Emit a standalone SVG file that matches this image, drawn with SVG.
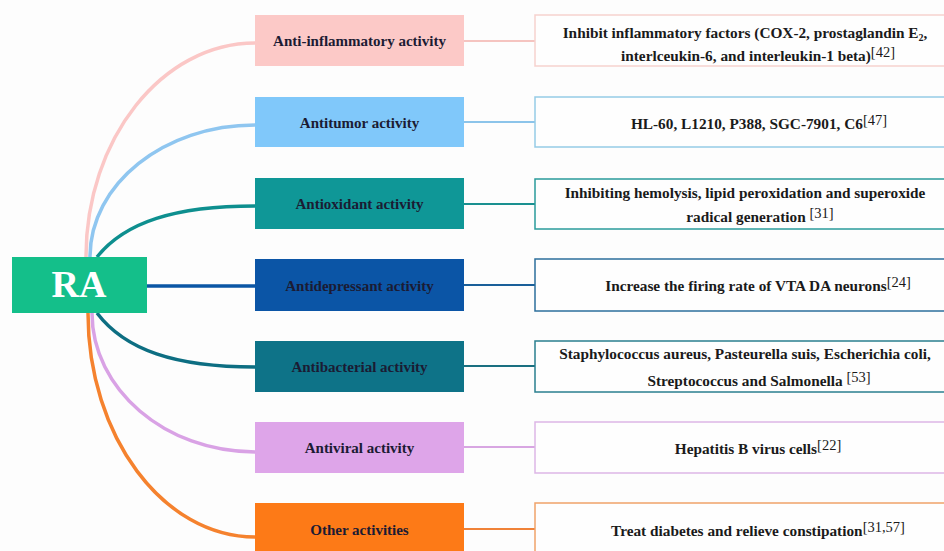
<svg xmlns="http://www.w3.org/2000/svg" width="944" height="551" viewBox="0 0 944 551">
<style>
.bg{fill:#fdfdfd}
.mid text{font-family:"Liberation Serif",serif;font-weight:bold;font-size:15px;fill:#1b1b33;text-anchor:middle}
.det rect{fill:#fefefe;stroke-width:1.5}
.det text{font-family:"Liberation Serif",serif;font-weight:bold;font-size:15.3px;fill:#1a1a1a;text-anchor:middle}
.ref{font-weight:normal;font-size:14.5px}
.c path{fill:none;stroke-width:3.5}
.r line{stroke-width:2}
</style>
<rect class="bg" x="0" y="0" width="944" height="551"/>
<g class="c" id="connectors">
<path d="M86,257 C86,139 162,43 255,43" stroke="#fbc7c6"/>
<path d="M90,257 C90,184 164,125 255,125" stroke="#8fc6f0"/>
<path d="M97,257 C125,222 175,206 255,206" stroke="#0e8f8f"/>
<path d="M147,286 L255,286" stroke="#0b56a5"/>
<path d="M97,313 C125,350 175,367 255,367" stroke="#0d6e82"/>
<path d="M92,313 C92,389 165,452 255,452" stroke="#d9a2e5"/>
<path d="M88,313 C88,436 163,537 255,537" stroke="#f5822e"/>
</g>
<g class="r" id="right-connectors">
<line x1="464" y1="41" x2="535" y2="41" stroke="#f5c4c0"/>
<line x1="464" y1="122" x2="535" y2="122" stroke="#8cc4ea"/>
<line x1="464" y1="204" x2="535" y2="204" stroke="#1a9090"/>
<line x1="464" y1="285" x2="535" y2="285" stroke="#1a5f99"/>
<line x1="464" y1="366" x2="535" y2="366" stroke="#1a6f80"/>
<line x1="464" y1="447" x2="535" y2="447" stroke="#d8a6e2"/>
<line x1="464" y1="529" x2="535" y2="529" stroke="#f08238"/>
</g>
<g id="RA">
<rect x="12" y="257" width="135" height="56" fill="#14bf8a"/>
<text x="79" y="297" font-family="Liberation Serif,serif" font-weight="bold" font-size="38" fill="#ffffff" text-anchor="middle">RA</text>
</g>
<g class="mid" id="m1"><rect x="255" y="15" width="209" height="51" fill="#fcc9c7"/><text x="359.5" y="46">Anti-inflammatory activity</text></g>
<g class="mid" id="m2"><rect x="255" y="97" width="209" height="50" fill="#80c8fa"/><text x="359.5" y="128">Antitumor activity</text></g>
<g class="mid" id="m3"><rect x="255" y="178" width="209" height="51" fill="#0f9797"/><text x="359.5" y="209">Antioxidant activity</text></g>
<g class="mid" id="m4"><rect x="255" y="259" width="209" height="52" fill="#0b55a6"/><text x="359.5" y="291">Antidepressant activity</text></g>
<g class="mid" id="m5"><rect x="255" y="341" width="209" height="51" fill="#0e7388"/><text x="359.5" y="372">Antibacterial activity</text></g>
<g class="mid" id="m6"><rect x="255" y="422" width="209" height="51" fill="#dea5e9"/><text x="359.5" y="453">Antiviral activity</text></g>
<g class="mid" id="m7"><rect x="255" y="503" width="209" height="60" fill="#fd7a17"/><text x="359.5" y="535">Other activities</text></g>
<g class="det" id="d1"><rect x="535" y="15" width="420" height="51" stroke="#f6d2ce"/>
<text x="745" y="38">Inhibit inflammatory factors (COX-2, prostaglandin E<tspan font-size="10" dy="3">2</tspan><tspan dy="-3">,</tspan></text>
<text x="758" y="61">interlceukin-6, and interleukin-1 beta)<tspan class="ref" dy="-4">[42]</tspan></text></g>
<g class="det" id="d2"><rect x="535" y="97" width="420" height="50" stroke="#95cbe6"/>
<text x="759" y="129">HL-60, L1210, P388, SGC-7901, C6<tspan class="ref" dy="-4">[47]</tspan></text></g>
<g class="det" id="d3"><rect x="535" y="179" width="420" height="50" stroke="#2a9b9b"/>
<text x="745" y="198">Inhibiting hemolysis, lipid peroxidation and superoxide</text>
<text x="760" y="222">radical generation <tspan class="ref" dy="-4">[31]</tspan></text></g>
<g class="det" id="d4"><rect x="535" y="259" width="420" height="52" stroke="#2c6f9c"/>
<text x="758" y="291">Increase the firing rate of VTA DA neurons<tspan class="ref" dy="-4">[24]</tspan></text></g>
<g class="det" id="d5"><rect x="535" y="341" width="420" height="51" stroke="#2a7f8f"/>
<text x="745" y="359">Staphylococcus aureus, Pasteurella suis, Escherichia coli,</text>
<text x="759" y="386">Streptococcus and Salmonella <tspan class="ref" dy="-4">[53]</tspan></text></g>
<g class="det" id="d6"><rect x="535" y="422" width="420" height="51" stroke="#ddb6e6"/>
<text x="758" y="454">Hepatitis B virus cells<tspan class="ref" dy="-4">[22]</tspan></text></g>
<g class="det" id="d7"><rect x="535" y="503" width="420" height="60" stroke="#f0a36a"/>
<text x="758" y="536">Treat diabetes and relieve constipation<tspan class="ref" dy="-4">[31,57]</tspan></text></g>
</svg>
